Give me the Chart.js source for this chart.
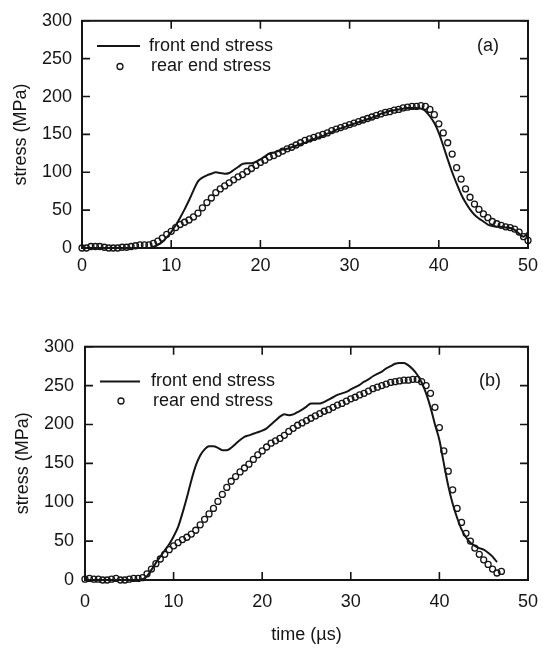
<!DOCTYPE html>
<html><head><meta charset="utf-8">
<script src="https://cdn.jsdelivr.net/npm/chart.js@4/dist/chart.umd.min.js"></script>
<style>
html,body{margin:0;padding:0;background:#fff;width:549px;height:650px;overflow:hidden}
#wa{position:absolute;left:0;top:0;width:549px;height:300px}
#wb{position:absolute;left:0;top:300px;width:549px;height:350px}
canvas{display:block}
</style></head><body>
<div id="wa"><canvas id="ca" width="549" height="300"></canvas></div>
<div id="wb"><canvas id="cb" width="549" height="350"></canvas></div>
<script>
// ---- data (time in µs, stress in MPa) ----
const xTickValues = [0, 10, 20, 30, 40, 50];
const yTickValues = [0, 50, 100, 150, 200, 250, 300];
const seriesNames = ["front end stress", "rear end stress"];
const panelNames = ["(a)", "(b)"];
const xTitle = "time (\u00b5s)";
const yTitle = "stress (MPa)";

const timeA = [0,0.5,1,1.5,2,2.5,3,3.5,4,4.5,5,5.5,6,6.5,7,7.5,8,8.5,9,9.5,10,10.5,11,11.5,12,12.5,13,13.5,14,14.5,15,15.5,16,16.5,17,17.5,18,18.5,19,19.5,20,20.5,21,21.5,22,22.5,23,23.5,24,24.5,25,25.5,26,26.5,27,27.5,28,28.5,29,29.5,30,30.5,31,31.5,32,32.5,33,33.5,34,34.5,35,35.5,36,36.5,37,37.5,38,38.5,39,39.5,40,40.5,41,41.5,42,42.5,43,43.5,44,44.5,45,45.5,46,46.5,47,47.5,48,48.5,49,49.5,50];
const frontA = [0,0,0,0,0,0,0,0,0,0,0,0,0,0,0,0,1,4,8,14,21,30,40,51,63,76,88,93,96,98,100,99,98,99,103,107,111,112,112,114,117,121,125,126,128,130,131,133,135,137,139,142,144,146,148,151,153,156,158,160,162,164,166,168,170,172,174,177,179,181,182,183,184,185,185,185,184,181,174,165,152,135,117,100,85,71,60,51,44,39,35,31,29,28,28,27,26.5,24,19,15,21];
const rearA = [0,0,2,2,2,1,0,0,0,1,1,2,3,4,4,4,6,9,13,18,22,27,31,34,37,41,46,53,60,66,73,78,82,86,90,94,97,101,105,109,113,116,120,122,125,128,131,133,136,139,142,144,146,148,150,152,155,157,159,161,163,165,167,169,171,173,175,177,179,180,182,183,185,186,187,187,188,187,183,176,164,152,139,124,106,91,78,67,58,51,45,40,35,32,30,28,27,25,21,15,10];

const timeFrontB = [0,0.5,1,1.5,2,2.5,3,3.5,4,4.5,5,5.5,6,6.5,7,7.5,8,8.5,9,9.5,10,10.5,11,11.5,12,12.5,13,13.5,14,14.5,15,15.5,16,16.5,17,17.5,18,18.5,19,19.5,20,20.5,21,21.5,22,22.5,23,23.5,24,24.5,25,25.5,26,26.5,27,27.5,28,28.5,29,29.5,30,30.5,31,31.5,32,32.5,33,33.5,34,34.5,35,35.5,36,36.5,37,37.5,38,38.5,39,39.5,40,40.5,41,41.5,42,42.5,43,43.5,44,44.5,45,45.5,46,46.5];
const frontB = [0,0,0,0,0,0,0,0,0,0,0,0,0,1,5,13,22,30,38,46,56,68,86,106,128,147,160,168,172,172,170,167,167,170,175,180,184,186,188,190,192,195,200,205,210,213,212,213,216,219,223,227,227,227,229,232,235,238,240,242,245,248,251,255,258,262,265,268,272,275,278,279,279,276,271,264,254,240,222,200,180,150,121,98,80,65,55,48,44,41,39,35,30,23];
const timeRearB = [0,0.5,1,1.5,2,2.5,3,3.5,4,4.5,5,5.5,6,6.5,7,7.5,8,8.5,9,9.5,10,10.5,11,11.5,12,12.5,13,13.5,14,14.5,15,15.5,16,16.5,17,17.5,18,18.5,19,19.5,20,20.5,21,21.5,22,22.5,23,23.5,24,24.5,25,25.5,26,26.5,27,27.5,28,28.5,29,29.5,30,30.5,31,31.5,32,32.5,33,33.5,34,34.5,35,35.5,36,36.5,37,37.5,38,38.5,39,39.5,40,40.5,41,41.5,42,42.5,43,43.5,44,44.5,45,45.5,46,46.5,47];
const rearB = [1,2,1,1,0,0,1,2,0,0,1,2,2,3,8,14,21,27,33,39,44,48,52,55,59,64,71,78,85,92,101,110,119,127,133,139,144,149,155,161,166,171,176,179,182,186,191,195,199,202,205,208,211,214,217,219,222,225,227,230,233,235,238,240,243,246,248,250,252,254,255,256,257,257,258,258,255,250,240,222,196,166,140,116,92,74,60,50,41,33,26,20,14,9,11];

function pts(t, v) { return t.map((x, i) => ({x: x, y: v[i]})); }

const FONT = "'Liberation Sans', Arial, Helvetica, sans-serif";
const INK = '#151515';

const framePlugin = {
  id: 'frame',
  afterDatasetsDraw(chart, args, o) {
    const ctx = chart.ctx, a = chart.chartArea;
    const xs = chart.scales.x, ys = chart.scales.y;
    ctx.save();
    ctx.strokeStyle = INK;
    ctx.lineWidth = 2;
    ctx.strokeRect(a.left, a.top, a.right - a.left, a.bottom - a.top);
    ctx.lineWidth = 1.6;
    const L = 8;
    ctx.beginPath();
    xTickValues.forEach(v => {
      const p = xs.getPixelForValue(v);
      ctx.moveTo(p, a.bottom); ctx.lineTo(p, a.bottom - L);
      ctx.moveTo(p, a.top); ctx.lineTo(p, a.top + L);
    });
    yTickValues.forEach(v => {
      const p = ys.getPixelForValue(v);
      ctx.moveTo(a.left, p); ctx.lineTo(a.left + L, p);
      ctx.moveTo(a.right, p); ctx.lineTo(a.right - L, p);
    });
    ctx.stroke();
    // legend
    const lg = o.legend;
    ctx.font = "18px " + FONT;
    ctx.fillStyle = INK;
    ctx.textBaseline = 'middle';
    ctx.textAlign = 'left';
    ctx.lineWidth = 2;
    ctx.beginPath();
    ctx.moveTo(lg.lineX0, lg.row1); ctx.lineTo(lg.lineX1, lg.row1);
    ctx.stroke();
    ctx.fillText(seriesNames[0], lg.text1X, lg.row1);
    ctx.lineWidth = 1.3;
    ctx.beginPath();
    ctx.arc(lg.dotX, lg.row2, 3, 0, Math.PI * 2);
    ctx.fillStyle = '#fff'; ctx.fill(); ctx.stroke();
    ctx.fillStyle = INK;
    ctx.fillText(seriesNames[1], lg.text2X, lg.row2);
    ctx.textAlign = 'center';
    ctx.fillText(o.panel, lg.panelX, lg.row1);
    ctx.restore();
  }
};

function makeChart(id, front, rear, g) {
  return new Chart(document.getElementById(id), {
    type: 'scatter',
    data: {
      datasets: [
        { label: seriesNames[0], data: front, showLine: true, pointRadius: 0,
          borderColor: INK, borderWidth: 2, cubicInterpolationMode: 'monotone', clip: false, order: 1 },
        { label: seriesNames[1], data: rear, showLine: false, pointRadius: 3,
          pointBorderWidth: 1.3, pointBackgroundColor: 'rgba(255,255,255,0)',
          pointBorderColor: INK, pointStyle: 'circle', clip: false, order: 2 }
      ]
    },
    options: {
      responsive: false, animation: false, devicePixelRatio: 1,
      layout: { padding: { left: 0, right: g.padRight, top: g.padTop, bottom: 0 } },
      plugins: {
        legend: { display: false }, tooltip: { enabled: false },
        frame: { legend: g.legend, panel: g.panel }
      },
      scales: {
        x: {
          type: 'linear', min: 0, max: 50,
          grid: { display: false, drawTicks: false }, border: { display: false },
          afterBuildTicks: s => { s.ticks = xTickValues.map(v => ({ value: v })); },
          afterFit: s => { s.height = g.xHeight; },
          ticks: { color: INK, font: { family: FONT, size: 18 }, padding: g.xPad, maxRotation: 0 },
          title: { display: g.showXTitle, text: xTitle, color: INK,
                   font: { family: FONT, size: 18 }, padding: { top: 0, bottom: g.xTitlePad } }
        },
        y: {
          type: 'linear', min: 0, max: 300,
          grid: { display: false, drawTicks: false }, border: { display: false },
          afterBuildTicks: s => { s.ticks = yTickValues.map(v => ({ value: v })); },
          afterFit: s => { s.width = g.yWidth; },
          ticks: { color: INK, font: { family: FONT, size: 18 }, padding: g.yPad },
          title: { display: true, text: yTitle, color: INK,
                   font: { family: FONT, size: 18 }, padding: { top: g.yTitlePad, bottom: 0 } }
        }
      }
    },
    plugins: [framePlugin]
  });
}

makeChart('ca', pts(timeA, frontA), pts(timeA, rearA), {
  padRight: 21, padTop: 12, xHeight: 52, yWidth: 82, xPad: 7, yPad: 10,
  showXTitle: false, xTitlePad: 0, yTitlePad: 10, panel: panelNames[0],
  legend: { lineX0: 97, lineX1: 140, row1: 46, row2: 66.5, text1X: 149, text2X: 151, dotX: 120, panelX: 488 }
});
makeChart('cb', pts(timeFrontB, frontB), pts(timeRearB, rearB), {
  padRight: 19, padTop: 46.7, xHeight: 70, yWidth: 85, xPad: 11, yPad: 11,
  showXTitle: true, xTitlePad: 4, yTitlePad: 12, panel: panelNames[1],
  legend: { lineX0: 100, lineX1: 140, row1: 81.5, row2: 101, text1X: 151, text2X: 153, dotX: 121, panelX: 490 }
});
</script>
</body></html>
